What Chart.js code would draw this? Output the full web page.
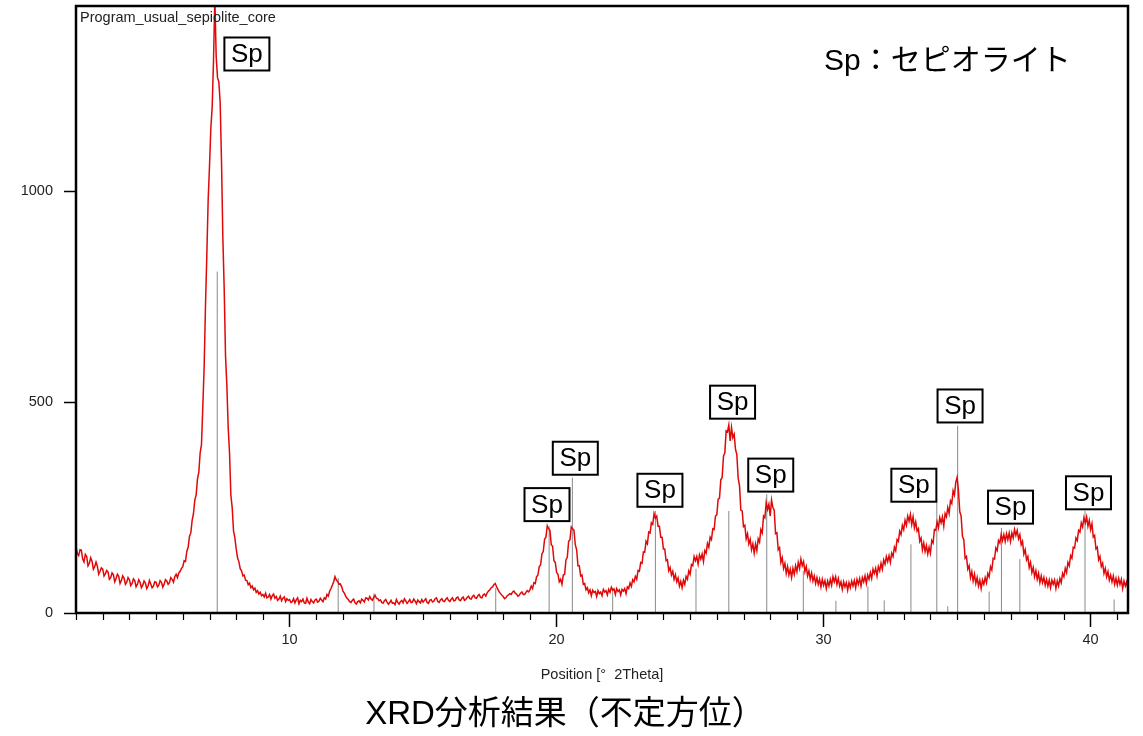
<!DOCTYPE html>
<html>
<head>
<meta charset="utf-8">
<script src="https://cdn.jsdelivr.net/npm/chart.js@4.4.0/dist/chart.umd.min.js"></script>
<style>
  html, body { margin: 0; padding: 0; background: #fff; }
  #wrap { width: 1143px; height: 736px; position: relative; }
</style>
</head>
<body>
<div id="wrap"><canvas id="xrd"></canvas></div>
<script>
// scan: 2θ start and step of the measurement
const scanStart = 2.0;
const scanStep = 0.05;

// counts, one row per degree (x.00 .. x.95), 2.00° .. 41.40°
const intensity = [
  158,141,136,150,149,128,121,139,134,112,118,131,123,104,110,121,111,92,99,107,
  104,88,93,101,97,80,84,95,91,74,82,92,87,70,77,88,83,68,73,84,
  79,65,70,81,77,62,68,79,73,60,66,76,71,58,64,77,69,60,64,74,
  73,62,66,77,73,61,68,79,76,68,72,84,80,73,86,92,84,95,99,106,
  110,124,122,146,156,182,190,220,236,268,280,318,334,380,400,490,585,730,850,980,
  1060,1150,1200,1310,1460,1320,1270,1260,1210,1070,890,770,610,540,440,380,280,250,195,178,
  152,131,122,105,100,88,90,78,77,67,71,60,64,55,59,49,53,45,49,41,
  44,38,47,36,38,44,33,41,45,35,39,30,33,40,29,35,38,27,34,30,
  32,25,27,34,24,31,36,22,30,27,33,24,23,35,26,22,32,27,24,31,
  33,26,28,35,31,27,36,33,44,40,52,58,66,74,86,78,75,68,69,62,
  52,47,40,35,32,27,25,30,33,24,21,27,29,24,33,30,26,36,35,31,
  39,33,30,37,42,35,34,29,31,25,23,29,32,26,21,25,30,23,24,20,
  32,25,21,27,30,24,34,29,23,27,32,25,26,33,28,22,31,27,24,32,
  26,30,34,25,23,30,32,26,28,34,36,27,25,31,34,28,27,33,36,30,
  27,33,36,29,30,36,38,31,29,35,38,30,32,37,40,34,33,39,42,36,
  35,41,44,37,36,43,45,40,48,52,55,60,62,67,70,63,56,50,46,42,
  39,34,36,41,43,46,44,50,52,47,45,40,42,47,50,44,44,49,53,50,
  55,64,58,72,70,86,90,110,114,140,146,175,180,207,200,196,162,158,124,120,
  96,92,74,80,68,90,92,126,132,170,174,204,200,196,162,150,112,112,88,90,
  68,70,55,60,48,55,41,54,49,51,39,53,46,50,41,56,50,53,43,56,
  49,61,54,57,44,58,51,55,43,56,52,58,46,62,58,71,63,79,74,87,
  80,101,99,120,118,145,144,170,164,192,190,214,210,236,225,230,206,206,180,180,
  152,152,124,126,100,108,90,99,80,91,74,83,64,75,60,78,68,87,80,100,
  92,115,112,134,124,134,116,138,128,140,122,148,142,165,156,180,174,200,198,230,
  233,270,272,316,322,372,380,432,430,446,408,440,416,424,388,376,320,302,244,242,
  205,208,176,188,164,175,150,164,142,164,148,176,168,198,190,230,226,262,246,258,
  230,268,250,244,188,190,150,155,120,131,106,118,94,110,90,104,84,106,92,112,
  98,120,106,128,112,122,98,110,88,100,80,95,76,88,70,84,68,80,62,80,
  66,77,58,76,64,80,66,86,74,86,68,82,64,74,56,74,62,72,54,72,
  60,76,64,77,60,80,68,82,64,84,74,88,70,90,80,96,82,104,94,106,
  88,110,100,118,104,126,116,134,122,136,120,142,134,156,148,174,170,194,186,208,
  198,220,208,230,218,234,210,228,202,216,194,200,170,178,150,166,146,160,140,156,
  142,172,166,198,196,216,202,226,214,228,206,236,228,250,236,266,260,290,280,310,
  322,290,240,230,182,174,130,134,104,112,84,98,76,92,70,84,64,78,58,78,
  68,84,72,94,86,110,102,130,128,154,148,172,166,186,172,186,170,188,174,190,
  170,190,178,198,184,196,176,186,162,170,140,150,126,134,108,120,96,108,86,100,
  80,94,72,88,72,84,66,80,64,78,60,78,68,78,58,76,64,82,72,94,
  86,106,96,120,112,136,130,156,154,178,172,196,192,214,204,226,214,228,206,220,
  198,212,180,184,152,156,126,134,110,118,94,106,86,98,78,90,74,88,68,82,
  66,82,68,80,58,76,64,74,56
];

// reference peak list (grey sticks)
const stickPos = [7.29, 11.82, 13.16, 17.72, 19.72, 20.59, 22.10, 23.70, 25.22, 26.45, 27.87, 29.24,
                  30.46, 31.66, 32.27, 33.27, 34.24, 34.65, 35.02, 36.20, 36.66, 37.35, 39.79, 40.88];
const stickHeight = [810, 83, 47, 60, 206, 321, 60, 242, 105, 242, 282, 100,
                     29, 63, 30, 163, 262, 16, 444, 51, 202, 128, 242, 32];

// "Sp" markers: centre position and the count their box sits on
const labelPos = [8.40, 19.64, 20.70, 23.87, 26.59, 28.02, 33.38, 35.11, 37.00, 39.92];
const labelBase = [1287, 218, 328, 252, 461, 288, 264, 452, 212, 246];
const labelText = 'Sp';

const xTicks = [10, 20, 30, 40];
const yTicks = [0, 500, 1000];

const sampleName = 'Program_usual_sepiolite_core';
const legendText = 'Sp：セピオライト';
const captionText = 'XRD分析結果（不定方位）';

const scanPoints = intensity.map((v, i) => ({ x: +(scanStart + i * scanStep).toFixed(2), y: v }));

const stickPoints = [];
stickPos.forEach((p, i) => {
  stickPoints.push({ x: p, y: 0 }, { x: p, y: stickHeight[i] }, { x: p, y: null });
});

const latin = '"Liberation Sans", Arial, sans-serif';
const cjk = '"Liberation Sans", "Noto Sans CJK JP", sans-serif';

const decor = {
  id: 'decor',
  afterDatasetsDraw(chart) {
    const { ctx, chartArea: a, scales: { x, y } } = chart;
    ctx.save();

    // minor ticks every degree
    ctx.strokeStyle = '#000';
    ctx.lineWidth = 1.2;
    ctx.beginPath();
    for (let d = Math.ceil(x.min); d <= x.max; d++) {
      if (d % 10 === 0) continue;
      const px = Math.round(x.getPixelForValue(d)) + 0.5;
      ctx.moveTo(px, a.bottom);
      ctx.lineTo(px, a.bottom + 7);
    }
    ctx.stroke();

    // Sp boxes
    ctx.font = '26px ' + latin;
    ctx.textAlign = 'center';
    ctx.textBaseline = 'middle';
    labelPos.forEach((p, i) => {
      const cx = x.getPixelForValue(p);
      const by = y.getPixelForValue(labelBase[i]);
      const w = 45, h = 33;
      ctx.fillStyle = '#fff';
      ctx.fillRect(cx - w / 2, by - h, w, h);
      ctx.lineWidth = 2;
      ctx.strokeStyle = '#000';
      ctx.strokeRect(cx - w / 2, by - h, w, h);
      ctx.fillStyle = '#000';
      ctx.fillText(labelText, cx, by - h / 2 + 1);
    });

    // frame
    ctx.lineWidth = 2.5;
    ctx.strokeStyle = '#000';
    ctx.strokeRect(a.left, a.top, a.right - a.left, a.bottom - a.top);

    // texts
    ctx.textAlign = 'left';
    ctx.textBaseline = 'top';
    ctx.fillStyle = '#222';
    ctx.font = '14.5px ' + latin;
    ctx.fillText(sampleName, a.left + 4, a.top + 5);

    ctx.fillStyle = '#000';
    ctx.textBaseline = 'middle';
    ctx.font = '30px ' + cjk;
    ctx.fillText(legendText, 824, 62);

    ctx.textAlign = 'center';
    ctx.font = '33px ' + cjk;
    ctx.fillText(captionText, 565, 715);
    ctx.restore();
  }
};

new Chart(document.getElementById('xrd'), {
  type: 'line',
  data: {
    datasets: [
      {
        data: scanPoints,
        borderColor: '#e00808',
        borderWidth: 1.5,
        pointRadius: 0,
        tension: 0,
        order: 0
      },
      {
        data: stickPoints,
        borderColor: '#8a8a8a',
        borderWidth: 1,
        pointRadius: 0,
        spanGaps: false,
        order: 1
      }
    ]
  },
  options: {
    responsive: true,
    maintainAspectRatio: false,
    animation: false,
    layout: { padding: { top: 6, right: 15, bottom: 48, left: 0 } },
    plugins: { legend: { display: false }, tooltip: { enabled: false } },
    scales: {
      x: {
        type: 'linear',
        min: 2,
        max: 41.4,
        afterFit: (s) => { s.height = 75; s.paddingLeft = 0; s.paddingRight = 0; },
        afterBuildTicks: (s) => { s.ticks = xTicks.map((v) => ({ value: v })); },
        grid: { drawOnChartArea: false, tickLength: 14, tickColor: '#000', tickWidth: 1.5 },
        border: { display: false },
        ticks: { padding: 4, color: '#222', font: { family: latin, size: 14.5 } },
        title: {
          display: true,
          text: 'Position [°  2Theta]',
          color: '#222',
          font: { family: latin, size: 14.5 },
          padding: { top: 0, bottom: 4 }
        }
      },
      y: {
        min: 0,
        max: 1440,
        afterFit: (s) => { s.width = 76; s.paddingTop = 0; s.paddingBottom = 0; },
        afterBuildTicks: (s) => { s.ticks = yTicks.map((v) => ({ value: v })); },
        grid: { drawOnChartArea: false, tickLength: 12, tickColor: '#000', tickWidth: 1.5 },
        border: { display: false },
        ticks: {
          padding: 11,
          color: '#222',
          font: { family: latin, size: 14.5 },
          callback: (v) => String(v)
        }
      }
    }
  },
  plugins: [decor]
});
</script>
</body>
</html>
